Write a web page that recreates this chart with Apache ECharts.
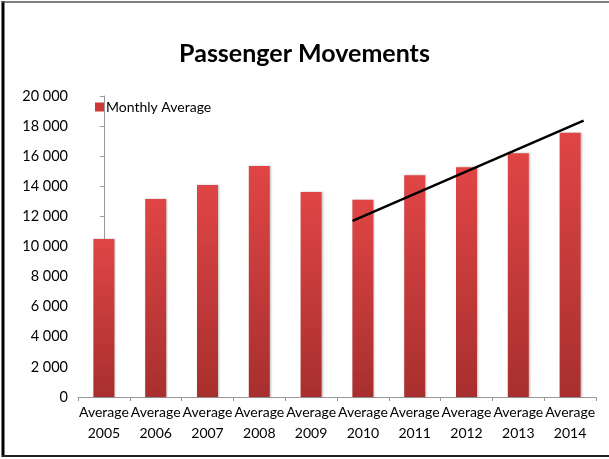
<!DOCTYPE html>
<html><head><meta charset="utf-8">
<script src="https://cdn.jsdelivr.net/npm/echarts@6/dist/echarts.min.js"></script>
<style>html,body{margin:0;padding:0;background:#fff}#c{width:609px;height:459px}</style>
</head><body><div id="c"></div>
<script>
const categories = ['Average\n2005','Average\n2006','Average\n2007','Average\n2008','Average\n2009','Average\n2010','Average\n2011','Average\n2012','Average\n2013','Average\n2014'];
const monthlyAverage = [10500, 13150, 14080, 15350, 13620, 13100, 14730, 15260, 16190, 17560];
const trendLine = [[4.80, 11700], [9.26, 18360]];
const yTicks = [0, 2000, 4000, 6000, 8000, 10000, 12000, 14000, 16000, 18000, 20000];

const FONT = 'Lato, "Open Sans", sans-serif';
const chart = echarts.init(document.getElementById('c'), null, {renderer: 'canvas'});
const barColor = new echarts.graphic.LinearGradient(0, 0, 0, 1, [
  {offset: 0, color: '#e04545'},
  {offset: 1, color: '#a82f2f'}
]);
chart.setOption({
  animation: false,
  backgroundColor: '#fff',
  title: {
    text: 'Passenger Movements', left: 'center', top: 36,
    textStyle: {fontFamily: FONT, fontWeight: 'bold', fontSize: 25, color: '#000'}
  },
  legend: {
    left: 90, top: 95, itemWidth: 9, itemHeight: 9, itemGap: 5, icon: 'rect',
    data: ['Monthly Average'],
    itemStyle: {color: '#cc3838', shadowBlur: 0, shadowOffsetX: 0, shadowOffsetY: 0, borderWidth: 0},
    textStyle: {fontFamily: FONT, fontSize: 14, color: '#000', padding: [0, 0, 0, -3]}
  },
  grid: {left: 78, right: 13, top: 96, bottom: 62},
  xAxis: [{
    type: 'category', data: categories,
    axisLine: {lineStyle: {color: '#999'}},
    axisTick: {show: true, length: 4, lineStyle: {color: '#999'}},
    axisLabel: {interval: 0, fontFamily: FONT, fontSize: 14, color: '#000', lineHeight: 21, margin: 5}
  }, {
    type: 'value', min: -0.5, max: 9.5, show: false
  }],
  yAxis: {
    type: 'value', min: 0, max: 20000, interval: 2000,
    axisLine: {show: true, lineStyle: {color: '#999'}},
    axisTick: {show: true, length: 4, lineStyle: {color: '#999'}},
    splitLine: {show: false},
    axisLabel: {
      fontFamily: FONT, fontSize: 14.5, color: '#000', margin: 10,
      formatter: v => yTicks.includes(v) ? String(v).replace(/\B(?=(\d{3})+(?!\d))/g, ' ') : ''
    }
  },
  series: [{
    name: 'Monthly Average', type: 'bar', data: monthlyAverage, barWidth: 21,
    itemStyle: {color: barColor, shadowColor: 'rgba(0,0,0,0.25)', shadowBlur: 2, shadowOffsetX: 1, shadowOffsetY: 0}
  }, {
    name: 'trend', type: 'line', xAxisIndex: 1, data: trendLine,
    symbol: 'none', lineStyle: {color: '#000', width: 2.5}, z: 5, silent: true
  }],
  graphic: [
    {type: 'line', shape: {x1: 3, y1: 1, x2: 3, y2: 457}, style: {stroke: '#000', lineWidth: 3}},
    {type: 'line', shape: {x1: 2, y1: 2, x2: 609, y2: 2}, style: {stroke: '#555', lineWidth: 1.5}},
    {type: 'line', shape: {x1: 2, y1: 456, x2: 609, y2: 456}, style: {stroke: '#222', lineWidth: 2}}
  ]
});
</script></body></html>
